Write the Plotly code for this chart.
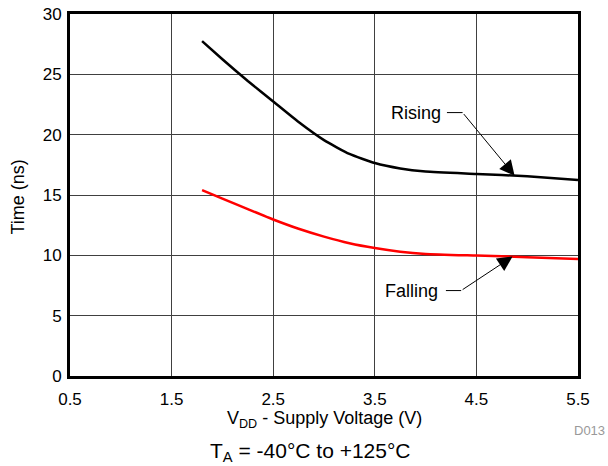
import plotly.graph_objects as go

vdd = [1.8, 2.0, 2.25, 2.5, 2.75, 3.0, 3.25, 3.5, 3.75, 4.0, 4.5, 5.0, 5.5]
rising = [27.75, 26.25, 24.45, 22.75, 21.05, 19.55, 18.4, 17.65, 17.2, 16.95, 16.75, 16.55, 16.25]
falling = [15.4, 14.7, 13.83, 12.97, 12.2, 11.55, 11.0, 10.6, 10.3, 10.12, 9.98, 9.85, 9.7]
x_ticks = [0.5, 1.5, 2.5, 3.5, 4.5, 5.5]
y_ticks = [0, 5, 10, 15, 20, 25, 30]

FONT = "Arial, Liberation Sans, sans-serif"
L, R, T, B = 70, 30, 14, 90
W, H = 608, 466
PW, PH = W - L - R, H - T - B


def px_x(px):
    return (px - L) / PW


def px_y(py):
    return 1 - (py - T) / PH


fig = go.Figure()
fig.add_trace(go.Scatter(x=vdd, y=rising, mode="lines", name="Rising",
                         line=dict(color="black", width=2.5, shape="spline", smoothing=0.5)))
fig.add_trace(go.Scatter(x=vdd, y=falling, mode="lines", name="Falling",
                         line=dict(color="#ff0000", width=2.5, shape="spline", smoothing=0.5)))

fig.update_layout(
    width=W, height=H,
    margin=dict(l=L, r=R, t=T, b=B, autoexpand=False),
    paper_bgcolor="white", plot_bgcolor="white",
    showlegend=False,
    font=dict(family=FONT, color="black"),
)
fig.update_xaxes(range=[0.5, 5.5], tickvals=x_ticks, ticktext=[str(v) for v in x_ticks],
                 showgrid=True, gridcolor="#404040", gridwidth=1,
                 showline=True, linecolor="black", linewidth=3, mirror=True,
                 zeroline=False, ticks="", ticklabelstandoff=6,
                 tickfont=dict(size=17, family=FONT, color="black"))
fig.update_yaxes(range=[0, 30], tickvals=y_ticks,
                 showgrid=True, gridcolor="#404040", gridwidth=1,
                 showline=True, linecolor="black", linewidth=3, mirror=True,
                 zeroline=False, ticks="", ticklabelstandoff=2,
                 tickfont=dict(size=17, family=FONT, color="black"))

# Leader lines (horizontal part)
fig.add_shape(type="line", xref="x", yref="y", x0=4.21, y0=21.83, x1=4.364, y1=21.83,
              line=dict(color="black", width=1))
fig.add_shape(type="line", xref="x", yref="y", x0=4.2, y0=7.08, x1=4.35, y1=7.08,
              line=dict(color="black", width=1))

# Labels
fig.add_annotation(x=4.17, y=21.83, xref="x", yref="y", text="Rising", showarrow=False,
                   xanchor="right", yanchor="middle", font=dict(size=18, family=FONT, color="black"))
fig.add_annotation(x=4.14, y=7.08, xref="x", yref="y", text="Falling", showarrow=False,
                   xanchor="right", yanchor="middle", font=dict(size=18, family=FONT, color="black"))

# Arrows
fig.add_annotation(x=4.876, y=16.6, xref="x", yref="y", ax=4.364, ay=21.83, axref="x", ayref="y",
                   text="", showarrow=True, arrowhead=2, arrowsize=3, arrowwidth=1, arrowcolor="black",
                   standoff=0, startstandoff=0)
fig.add_annotation(x=4.856, y=9.9, xref="x", yref="y", ax=4.35, ay=7.08, axref="x", ayref="y",
                   text="", showarrow=True, arrowhead=2, arrowsize=3, arrowwidth=1, arrowcolor="black",
                   standoff=0, startstandoff=0)

# Axis titles and notes
fig.add_annotation(x=px_x(17.5), y=px_y(197), xref="paper", yref="paper", xanchor="center", yanchor="middle",
                   text="Time (ns)", showarrow=False,
                   textangle=-90, font=dict(size=18, family=FONT, color="black"))
fig.add_annotation(x=px_x(324.5), y=px_y(419), xref="paper", yref="paper", xanchor="center", yanchor="middle",
                   text="V<sub>DD</sub> - Supply Voltage (V)",
                   showarrow=False, font=dict(size=18, family=FONT, color="black"))
fig.add_annotation(x=px_x(310), y=px_y(452), xref="paper", yref="paper", xanchor="center", yanchor="middle",
                   text="T<sub>A</sub> = -40°C to +125°C",
                   showarrow=False, font=dict(size=21, family=FONT, color="black"))
fig.add_annotation(x=px_x(589.5), y=px_y(430), xref="paper", yref="paper", xanchor="center", yanchor="middle",
                   text="D013",
                   showarrow=False, font=dict(size=13, family=FONT, color="#999999"))

fig.write_html("out.html", config={"displayModeBar": False},
               post_script="document.body.style.margin='0';document.body.style.overflow='hidden';")
